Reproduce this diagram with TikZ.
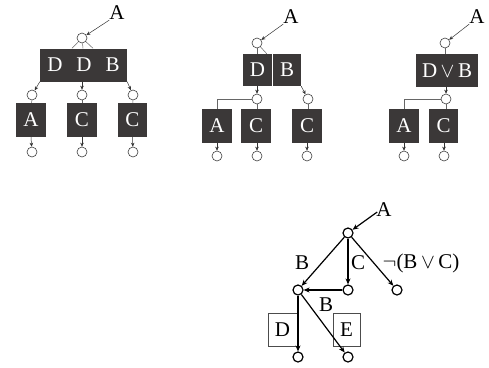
\documentclass[tikz,border=0pt]{standalone}
\usepackage{fontspec}
\setmainfont{Liberation Serif}
\usetikzlibrary{arrows.meta,calc}
\definecolor{boxgray}{HTML}{3B3838}
\begin{document}
\begin{tikzpicture}[x=1pt,y=-1pt,
  circ/.style={circle,draw=black!75,line width=0.6pt,fill=white,minimum size=10pt,inner sep=0pt},
  bcirc/.style={circle,draw=black,line width=1.2pt,fill=white,minimum size=10pt,inner sep=0pt},
  dbox/.style={rectangle,fill=boxgray,text=white,inner sep=0pt,minimum height=33pt,font=\fontsize{21}{23}\selectfont},
  wbox/.style={rectangle,draw=black!70,line width=0.6pt,inner sep=0pt,minimum height=33pt,font=\fontsize{21}{23}\selectfont},
  lbl/.style={inner sep=0pt,font=\fontsize{21}{23}\selectfont},
  thin/.style={draw=black!60,line width=0.5pt},
  tarr/.style={draw=black!80,line width=0.5pt,-{Stealth[length=4pt,width=3.5pt]}},
  barr/.style={line width=1.2pt,-{Stealth[length=6pt,width=5pt]}},
]
\useasboundingbox (0,0) rectangle (489,367);

% ---------- Panel 1 ----------
\node[lbl] (p1A) at (117,13) {A};
\node[dbox,minimum width=87pt] (p1b) at (83.5,65) {D\hspace{14pt}D\hspace{14pt}B};
\node[circ] (p1c0) at (82,38) {};
\draw[tarr] (p1A.south west) -- (p1c0);
\draw[thin] (p1c0) -- ([xshift=-11.5pt]p1b.north);
\draw[thin] (p1c0) -- ([xshift=-0.5pt]p1b.north);
\draw[thin] (p1c0) -- ([xshift=9.5pt]p1b.north);
\node[circ] (p1c1) at (32,95) {};
\node[circ] (p1c2) at (82,95) {};
\node[circ] (p1c3) at (133,95) {};
\draw[tarr] (p1b.south west) -- (p1c1);
\draw[tarr] ([xshift=-1.5pt]p1b.south) -- (p1c2);
\draw[tarr] (p1b.south east) -- (p1c3);
\node[dbox,minimum width=30pt,minimum height=34pt] (p1x1) at (31,120) {A};
\node[dbox,minimum width=30pt,minimum height=34pt] (p1x2) at (82,120) {C};
\node[dbox,minimum width=29pt,minimum height=34pt] (p1x3) at (132.5,120) {C};
\draw[thin] (p1c1) -- (p1x1);
\draw[thin] (p1c2) -- (p1x2);
\draw[thin] (p1c3) -- (p1x3);
\node[circ] (p1d1) at (32,152) {};
\node[circ] (p1d2) at (82,152) {};
\node[circ] (p1d3) at (133,152) {};
\draw[tarr] (p1x1.south) -- (p1d1);
\draw[tarr] (p1x2.south) -- (p1d2);
\draw[tarr] (p1x3.south) -- (p1d3);

% ---------- Panel 2 ----------
\node[lbl] (p2A) at (291,17) {A};
\node[circ] (p2c0) at (257,43) {};
\node[dbox,minimum width=29pt,minimum height=32pt] (p2D) at (257.5,70) {D};
\node[dbox,minimum width=28pt,minimum height=32pt] (p2B) at (287,70) {B};
\draw[tarr] (p2A.south west) -- (p2c0);
\draw[thin] (p2c0) -- (p2D.north -| p2c0);
\draw[thin] (p2c0) -- ([xshift=-6pt]p2B.north west);
\node[circ] (p2c1) at (257,99) {};
\node[circ] (p2c2) at (308,99) {};
\draw[tarr] (p2D.south -| p2c1) -- (p2c1);
\draw[tarr] (p2B.south east) -- (p2c2);
\node[dbox,minimum width=30pt,minimum height=34pt] (p2x1) at (217,126) {A};
\node[dbox,minimum width=30pt,minimum height=34pt] (p2x2) at (256,126) {C};
\node[dbox,minimum width=30pt,minimum height=34pt] (p2x3) at (307,126) {C};
\draw[thin] (p2c1) -| (p2x1.north);
\draw[thin] (p2c1) -- (p2x2.north -| p2c1);
\draw[thin] (p2c2) -- (p2x3.north -| p2c2);
\node[circ] (p2d1) at (217,156) {};
\node[circ] (p2d2) at (257,156) {};
\node[circ] (p2d3) at (307,156) {};
\draw[tarr] (p2x1.south) -- (p2d1);
\draw[tarr] (p2x2.south -| p2d2) -- (p2d2);
\draw[tarr] (p2x3.south) -- (p2d3);

% ---------- Panel 3 ----------
\node[lbl] (p3A) at (477,17) {A};
\node[circ] (p3c0) at (445,43) {};
\node[dbox,minimum width=62pt] (p3b) at (447,70.5) {D\,$\vee$\,B};
\draw[tarr] (p3A.south west) -- (p3c0);
\draw[thin] (p3c0) -- (p3b.north -| p3c0);
\node[circ] (p3c1) at (446,99) {};
\draw[tarr] (p3b.south -| p3c1) -- (p3c1);
\node[dbox,minimum width=30pt,minimum height=34pt] (p3x1) at (404,126) {A};
\node[dbox,minimum width=29pt,minimum height=34pt] (p3x2) at (443.5,126) {C};
\draw[thin] (p3c1) -| (p3x1.north);
\draw[thin] (p3c1) -- (p3x2.north -| p3c1);
\node[circ] (p3d1) at (404,156) {};
\node[circ] (p3d2) at (444,156) {};
\draw[tarr] (p3x1.south) -- (p3d1);
\draw[tarr] (p3x2.south -| p3d2) -- (p3d2);

% ---------- Panel 4 ----------
\node[wbox,minimum width=29pt] (p4D) at (282.5,329.5) {D};
\node[wbox,minimum width=27pt] (p4E) at (346.5,329.5) {E};
\node[lbl] (p4A) at (384,210) {A};
\node[bcirc] (p4c0) at (348,233) {};
\node[bcirc] (p4c1) at (298,290) {};
\node[bcirc] (p4c2) at (348,290) {};
\node[bcirc] (p4c3) at (397,290) {};
\node[bcirc] (p4d1) at (298,357) {};
\node[bcirc] (p4d2) at (348,357) {};
\draw[barr] ([xshift=1pt,yshift=-2pt]p4A.west) -- (p4c0);
\draw[barr] (p4c0) -- (p4c1);
\draw[barr] (p4c0) -- (p4c2);
\draw[barr] (p4c0) -- (p4c3);
\draw[barr] (p4c2) -- (p4c1);
\draw[barr] (p4c1) -- (p4d1);
\draw[barr] (p4c1) -- (p4d2);
\node[lbl] (p4lB) at (302,263) {B};
\node[lbl] (p4lC) at (358,263) {C};
\node[lbl] (p4lN) at (421,263) {$\neg$(B\,$\vee$\,C)};
\node[lbl] (p4lB2) at (326,305) {B};
\end{tikzpicture}
\end{document}
